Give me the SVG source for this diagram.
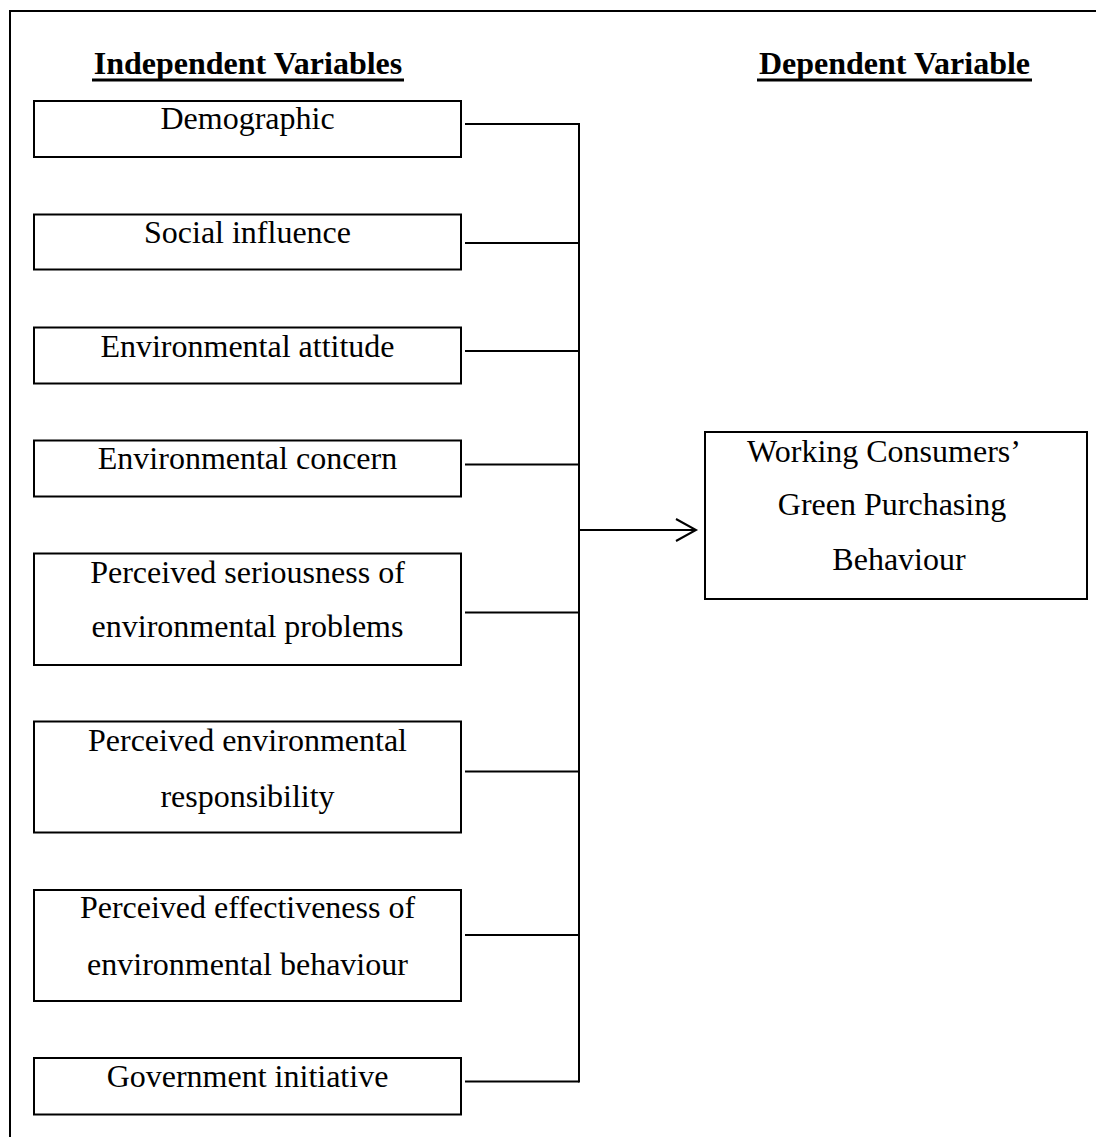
<svg xmlns="http://www.w3.org/2000/svg" width="1096" height="1137" viewBox="0 0 1096 1137">
<style>
  .box { fill: #fff; stroke: #000; stroke-width: 2; }
  .lbl { font-family: "Liberation Serif", "Times New Roman", serif; font-size: 32px; fill: #000; text-anchor: middle; }
  .title { font-family: "Liberation Serif", "Times New Roman", serif; font-size: 32px; font-weight: bold; fill: #000; text-anchor: middle; }
  .ln { stroke: #000; stroke-width: 2; fill: none; }
</style>
<defs>
  <marker id="arr" markerWidth="24" markerHeight="26" refX="21" refY="12" orient="auto" markerUnits="userSpaceOnUse">
    <path d="M1,1 L21,12 L1,23" fill="none" stroke="#000" stroke-width="2"/>
  </marker>
</defs>
<rect width="1096" height="1137" fill="#fff"/>
<g id="frame">
  <path class="ln" d="M10,1137 L10,11 L1096,11"/>
</g>
<g id="headings">
  <text class="title" x="248" y="74">Independent Variables</text>
  <rect x="92" y="78.5" width="312" height="3" fill="#000"/>
  <text class="title" x="894.5" y="74">Dependent Variable</text>
  <rect x="757" y="78.5" width="275" height="3" fill="#000"/>
</g>
<g id="connectors">
  <path class="ln" d="M465,124 L579,124"/>
  <path class="ln" d="M465,243 L579,243"/>
  <path class="ln" d="M465,351 L579,351"/>
  <path class="ln" d="M465,464.5 L579,464.5"/>
  <path class="ln" d="M465,612.5 L579,612.5"/>
  <path class="ln" d="M465,771.5 L579,771.5"/>
  <path class="ln" d="M465,935 L579,935"/>
  <path class="ln" d="M465,1081.5 L579,1081.5"/>
  <path class="ln" d="M579,123 L579,1082.5"/>
  <path class="ln" d="M579,530 L696,530" marker-end="url(#arr)"/>
</g>
<g id="n-demographic">
  <rect class="box" x="34" y="101" width="427" height="56"/>
  <text class="lbl" x="247.5" y="129">Demographic</text>
</g>
<g id="n-social">
  <rect class="box" x="34" y="214.5" width="427" height="55"/>
  <text class="lbl" x="247.5" y="243">Social influence</text>
</g>
<g id="n-attitude">
  <rect class="box" x="34" y="327.5" width="427" height="56"/>
  <text class="lbl" x="247.5" y="356.5">Environmental attitude</text>
</g>
<g id="n-concern">
  <rect class="box" x="34" y="440.5" width="427" height="56"/>
  <text class="lbl" x="247.5" y="469">Environmental concern</text>
</g>
<g id="n-seriousness">
  <rect class="box" x="34" y="553.5" width="427" height="111.5"/>
  <text class="lbl" x="247.5" y="582.5">Perceived seriousness of</text>
  <text class="lbl" x="247.5" y="637">environmental problems</text>
</g>
<g id="n-responsibility">
  <rect class="box" x="34" y="721.5" width="427" height="111"/>
  <text class="lbl" x="247.5" y="750.5">Perceived environmental</text>
  <text class="lbl" x="247.5" y="806.5">responsibility</text>
</g>
<g id="n-effectiveness">
  <rect class="box" x="34" y="890" width="427" height="111"/>
  <text class="lbl" x="247.5" y="918">Perceived effectiveness of</text>
  <text class="lbl" x="247.5" y="975">environmental behaviour</text>
</g>
<g id="n-government">
  <rect class="box" x="34" y="1058" width="427" height="56.5"/>
  <text class="lbl" x="247.5" y="1086.5">Government initiative</text>
</g>
<g id="n-behaviour">
  <rect class="box" x="705" y="432" width="382" height="167"/>
  <text class="lbl" x="884" y="461.5">Working Consumers’</text>
  <text class="lbl" x="892" y="515">Green Purchasing</text>
  <text class="lbl" x="899" y="570">Behaviour</text>
</g>
</svg>
